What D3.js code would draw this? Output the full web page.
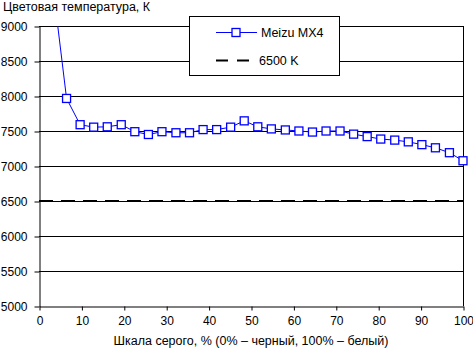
<!DOCTYPE html>
<html><head><meta charset="utf-8">
<script src="https://cdn.jsdelivr.net/npm/d3@7"></script>
<style>body{margin:0;background:#fff}svg{display:block}text{font-family:"Liberation Sans",Arial,sans-serif;fill:#000}</style>
</head><body><svg id="c" width="473" height="349"></svg>
<script>
const grayLevels = [3.2,6.5,9.7,12.9,16.1,19.4,22.6,25.8,29.0,32.3,35.5,38.7,41.9,45.2,48.4,51.6,54.8,58.1,61.3,64.5,67.7,71.0,74.2,77.4,80.6,83.9,87.1,90.3,93.5,96.8,100];
const meizuMX4 = [9610,7965,7590,7555,7560,7590,7490,7450,7490,7475,7475,7520,7520,7555,7645,7560,7530,7515,7500,7485,7500,7500,7455,7420,7385,7370,7345,7305,7260,7190,7075];
const reference = 6500;
const xTicks = [0,10,20,30,40,50,60,70,80,90,100];
const yTicks = [5000,5500,6000,6500,7000,7500,8000,8500,9000];
const seriesNames = ["Meizu MX4","6500 K"];
const yTitle = "Цветовая температура, К";
const xTitle = "Шкала серого, % (0% – черный, 100% – белый)";

const svg = d3.select("#c");
const L=39, R=463, T=26, B=306;
const x = d3.scaleLinear().domain([0,100]).range([L,R]);
const y = d3.scaleLinear().domain([5000,9000]).range([B,T]);

// gridlines
svg.append("g").selectAll("line").data(yTicks.filter(d=>d>5000)).join("line")
  .attr("x1",L).attr("x2",R).attr("y1",d=>Math.round(y(d))+0.5).attr("y2",d=>Math.round(y(d))+0.5)
  .attr("stroke","#000").attr("stroke-width",1);
// right border
svg.append("line").attr("x1",R+0.5).attr("x2",R+0.5).attr("y1",T).attr("y2",B).attr("stroke","#000");

// axes
const yAxis = svg.append("g").attr("transform",`translate(${L+0.5},0.5)`)
  .call(d3.axisLeft(y).tickValues(yTicks).tickFormat(d3.format("d")).tickSize(5).tickPadding(7).tickSizeOuter(0));
const xAxis = svg.append("g").attr("transform",`translate(0.5,${B+0.5})`)
  .call(d3.axisBottom(x).tickValues(xTicks).tickFormat(d3.format("d")).tickSize(4).tickPadding(6).tickSizeOuter(0));
[yAxis,xAxis].forEach(g=>{
  g.select(".domain").attr("stroke","#000");
  g.selectAll(".tick line").attr("stroke","#000");
  g.selectAll("text").style("font-size","12px").style("font-family","'Liberation Sans',Arial,sans-serif").attr("fill","#000");
});
yAxis.selectAll("text").attr("dy","0.36em");

// reference dashed line
svg.append("line").attr("x1",L).attr("x2",R).attr("y1",y(reference)).attr("y2",y(reference))
  .attr("stroke","#000").attr("stroke-width",2).attr("stroke-dasharray","14,8");

// clip
svg.append("clipPath").attr("id","clip").append("rect").attr("x",L).attr("y",T).attr("width",R-L+10).attr("height",B-T);
const data = grayLevels.map((g,i)=>({g,v:meizuMX4[i]}));
svg.append("path").datum(data).attr("clip-path","url(#clip)")
  .attr("d",d3.line().x(d=>x(d.g)).y(d=>y(d.v)))
  .attr("fill","none").attr("stroke","#0000ff").attr("stroke-width",1);
svg.append("g").selectAll("rect").data(data.filter(d=>d.v<=9000)).join("rect")
  .attr("x",d=>x(d.g)-4).attr("y",d=>y(d.v)-4).attr("width",8).attr("height",8)
  .attr("fill","#fff").attr("stroke","#0000ff").attr("stroke-width",1.3);

// legend
const lg = svg.append("g");
lg.append("rect").attr("x",189.5).attr("y",16.5).attr("width",150).attr("height",59).attr("fill","#fff").attr("stroke","#000");
lg.append("line").attr("x1",216).attr("x2",257).attr("y1",32.5).attr("y2",32.5).attr("stroke","#0000ff");
lg.append("rect").attr("x",232).attr("y",28.5).attr("width",8).attr("height",8).attr("fill","#fff").attr("stroke","#0000ff").attr("stroke-width",1.3);
lg.append("line").attr("x1",216).attr("x2",252).attr("y1",60.5).attr("y2",60.5).attr("stroke","#000").attr("stroke-width",2).attr("stroke-dasharray","12,9");
lg.selectAll("text").data(seriesNames).join("text").attr("x",(d,i)=>i?259:261).attr("y",(d,i)=>i?65:37)
  .style("font-size","12.5px").text(d=>d);

// titles
svg.append("text").attr("x",3).attr("y",11).style("font-size","12.5px").text(yTitle);
svg.append("text").attr("x",(L+R)/2).attr("y",345).attr("text-anchor","middle").style("font-size","12.5px").text(xTitle);
</script></body></html>
